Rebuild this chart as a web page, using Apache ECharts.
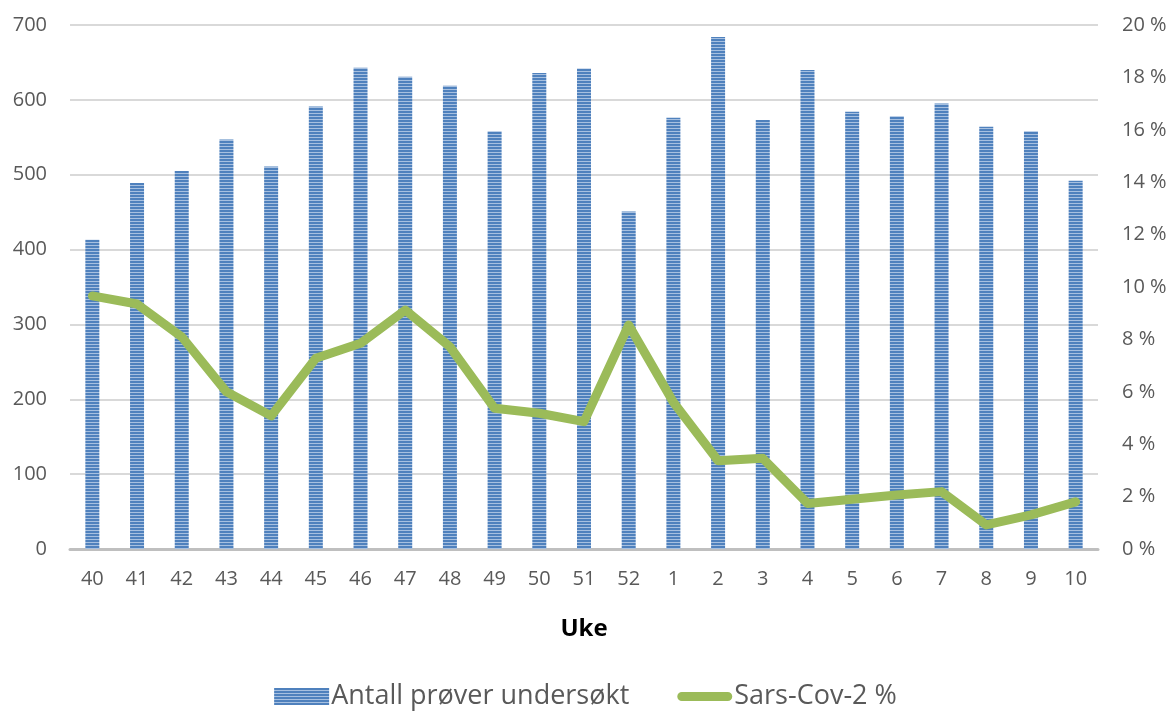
<!DOCTYPE html>
<html>
<head>
<meta charset="utf-8">
<script src="https://cdn.jsdelivr.net/npm/echarts@6/dist/echarts.min.js"></script>
<style>
  html, body { margin: 0; padding: 0; background: #fff; }
  #main { width: 1171px; height: 713px; }
</style>
</head>
<body>
<div id="main"></div>
<script>
// weeks (uke)
const weeks = ['40','41','42','43','44','45','46','47','48','49','50','51','52','1','2','3','4','5','6','7','8','9','10'];
// antall prøver undersøkt
const samples = [413, 489, 505, 547, 511, 591, 643, 631, 619, 558, 636, 642, 451, 576, 684, 573, 640, 584, 578, 595, 564, 558, 492];
// Sars-Cov-2 % (positive share)
const sarsPct = [9.66, 9.35, 8.1, 6.0, 5.08, 7.28, 7.85, 9.12, 7.72, 5.37, 5.18, 4.86, 8.55, 5.6, 3.37, 3.46, 1.74, 1.9, 2.06, 2.19, 0.92, 1.3, 1.8];

// striped fill like the excel pattern
const stripe = document.createElement('canvas');
stripe.width = 4; stripe.height = 3;
const sctx = stripe.getContext('2d');
sctx.fillStyle = '#4f81bd';
sctx.fillRect(0, 0, 4, 2);
sctx.fillStyle = '#a7c0e0';
sctx.fillRect(0, 2, 4, 1);

const font = '"Open Sans", "Noto Sans", sans-serif';
const myChart = echarts.init(document.getElementById('main'));

const option = {
  animation: false,
  grid: { left: 70, right: 73, top: 25, bottom: 164 },
  legend: {
    bottom: -2,
    left: 'center',
    itemWidth: 55,
    itemHeight: 17,
    itemGap: 48,
    textStyle: { fontFamily: font, fontSize: 27, color: '#595959', padding: [0, 0, 0, -3] },
    data: [
      { name: 'Antall prøver undersøkt', icon: 'rect' },
      {
        name: 'Sars-Cov-2 %',
        icon: 'path://M4,0 H44 A4,4 0 0 1 44,8 H4 A4,4 0 0 1 4,0 Z',
        itemStyle: { color: '#9bbb59' }
      }
    ]
  },
  xAxis: {
    type: 'category',
    data: weeks,
    name: 'Uke',
    nameLocation: 'middle',
    nameGap: 68,
    nameTextStyle: { fontFamily: font, fontSize: 24, fontWeight: 'bold', color: '#000', verticalAlign: 'top' },
    axisLine: { lineStyle: { color: '#bfbfbf', width: 3 } },
    axisTick: { show: false },
    axisLabel: { fontFamily: font, fontSize: 20, color: '#595959', margin: 20 }
  },
  yAxis: [
    {
      type: 'value',
      min: 0, max: 700, interval: 100,
      axisLine: { show: false },
      axisTick: { show: false },
      splitLine: { lineStyle: { color: '#d9d9d9', width: 2 } },
      axisLabel: { fontFamily: font, fontSize: 20, color: '#595959', margin: 23 }
    },
    {
      type: 'value',
      min: 0, max: 20, interval: 2,
      axisLine: { show: false },
      axisTick: { show: false },
      splitLine: { show: false },
      axisLabel: { fontFamily: font, fontSize: 20, color: '#595959', margin: 24, formatter: '{value} %' }
    }
  ],
  series: [
    {
      name: 'Antall prøver undersøkt',
      type: 'bar',
      data: samples,
      barWidth: 14,
      itemStyle: { color: { image: stripe, repeat: 'repeat' } }
    },
    {
      name: 'Sars-Cov-2 %',
      type: 'line',
      yAxisIndex: 1,
      data: sarsPct,
      symbol: 'none',
      lineStyle: { color: '#9bbb59', width: 9, cap: 'round', join: 'round' },
      itemStyle: { color: '#9bbb59' }
    }
  ]
};
myChart.setOption(option);
window.onresize = function () {
  myChart.resize();
};
</script>
</body>
</html>
